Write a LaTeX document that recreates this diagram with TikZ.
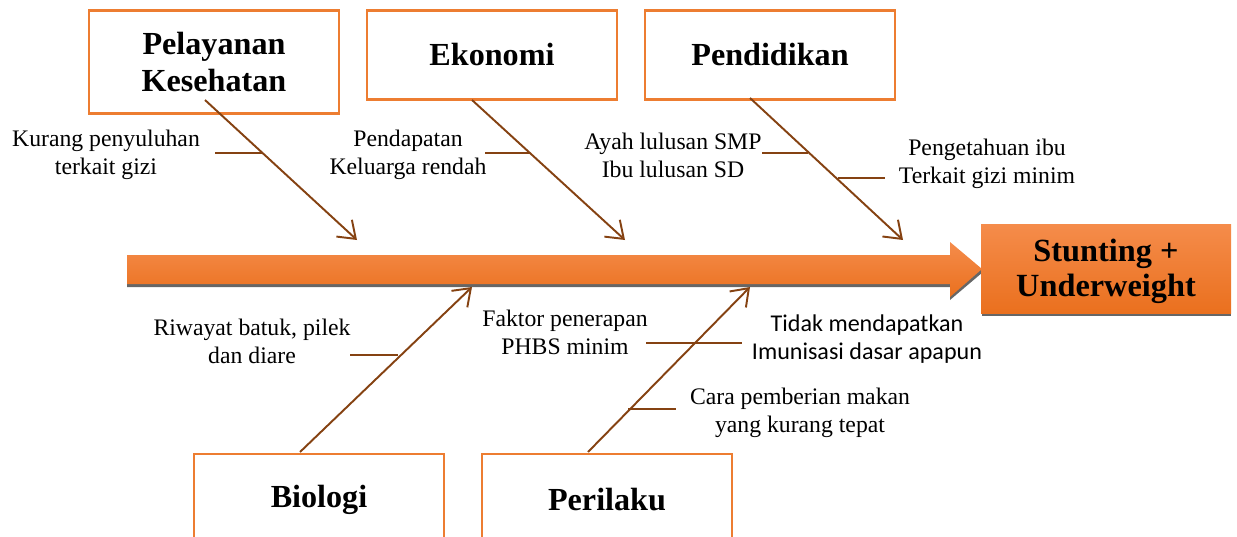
\documentclass[tikz,border=0pt]{standalone}
\usepackage{fontspec}
\setmainfont{Liberation Serif}
\newfontfamily\calibri{Carlito}
\usepackage{tikz}
\usetikzlibrary{arrows.meta,shadings}
\definecolor{boxorange}{RGB}{237,125,49}
\definecolor{bonebrown}{RGB}{133,66,18}
\definecolor{fishtop}{RGB}{245,140,75}
\definecolor{fishbottom}{RGB}{234,112,30}
\tikzstyle{cat}=[draw=boxorange,line width=1.5pt,minimum width=5cm,align=center,
  font=\fontsize{18.3}{21}\selectfont\bfseries]
\tikzstyle{cause}=[align=center,inner sep=0pt,font=\fontsize{13.5}{15.9}\selectfont]
\tikzstyle{bone}=[-{Straight Barb[length=9pt,width=13pt]},line width=1.1pt,color=bonebrown]
\tikzstyle{rib}=[line width=1.1pt,color=bonebrown]

\begin{document}
\begin{tikzpicture}[x=0.02cm,y=-0.02cm]
            \useasboundingbox (0,0) rectangle (1237,537);
            % spine
            \fill[gray!80!black] (127,258) -- (950,258) -- (950,245) -- (983,272)
                -- (950,300) -- (950,287) -- (127,287) -- cycle;
            \shade[top color=fishtop, bottom color=fishbottom]
                (127,255) -- (950,255) -- (950,242) -- (982,269) -- (950,297)
                -- (950,284) -- (127,284) -- cycle;
            % effect
            \fill[gray!80!black] (982,227) rectangle (1231,316);
            \shade[top color=fishtop, bottom color=fishbottom]
                (981,224) rectangle (1231,313);
            \node[cause,font=\fontsize{18.4}{20}\selectfont\bfseries] (stunting) at (1106,271)
                {Stunting +\\Underweight};
            % categories
            \node[cat,minimum height=103*0.02cm] (pelayanan) at (214,62) {Pelayanan\\Kesehatan};
            \node[cat,minimum height=89*0.02cm] (ekonomi) at (492,55) {Ekonomi};
            \node[cat,minimum height=89*0.02cm] (pendidikan) at (770,55) {Pendidikan};
            \node[cat,minimum height=92*0.02cm] (biologi) at (319,500) {Biologi};
            \node[cat,minimum height=92*0.02cm] (perilaku) at (607,500) {Perilaku};
            % bones
            \coordinate (pelB) at (357,240);
            \coordinate (pelA) at (205,100) edge[bone] (pelB);
            \coordinate (ekoB) at (625,240);
            \coordinate (ekoA) at (472,100) edge[bone] (ekoB);
            \coordinate (penB) at (903,240);
            \coordinate (penA) at (750,98) edge[bone] (penB);
            \coordinate (bioB) at (472,287);
            \coordinate (bioA) at (300,452) edge[bone] (bioB);
            \coordinate (perB) at (750,287);
            \coordinate (perA) at (588,452) edge[bone] (perB);
            % causes
            \node[cause] (kurang) at (106,155) {Kurang penyuluhan\\terkait gizi};
            \coordinate (kurangR) at (262,153);
            \coordinate (kurangL) at (215,153) edge[rib] (kurangR);
            \node[cause] (pendapatan) at (408,155) {Pendapatan\\Keluarga rendah};
            \coordinate (pendapatanR) at (530,153);
            \coordinate (pendapatanL) at (485,153) edge[rib] (pendapatanR);
            \node[cause] (ayah) at (673,155) {Ayah lulusan SMP\\Ibu lulusan SD};
            \coordinate (ayahR) at (808,153);
            \coordinate (ayahL) at (762,153) edge[rib] (ayahR);
            \node[cause] (pengetahuan) at (987,164) {Pengetahuan ibu\\Terkait gizi minim};
            \coordinate (pengetahuanR) at (885,178);
            \coordinate (pengetahuanL) at (838,178) edge[rib] (pengetahuanR);
            \node[cause] (riwayat) at (252,341) {Riwayat batuk, pilek\\dan diare};
            \coordinate (riwayatR) at (398,355);
            \coordinate (riwayatL) at (350,355) edge[rib] (riwayatR);
            \node[cause] (faktor) at (565,332) {Faktor penerapan\\PHBS minim};
            \coordinate (faktorR) at (742,343);
            \coordinate (faktorL) at (646,343) edge[rib] (faktorR);
            \node[cause,font=\fontsize{13.7}{16.2}\selectfont\calibri] (imunisasi) at (867,339)
                {Tidak mendapatkan\\Imunisasi dasar apapun};
            \node[cause] (cara) at (800,413) {Cara pemberian makan\\yang kurang tepat};
            \coordinate (caraR) at (676,409);
            \coordinate (caraL) at (628,409) edge[rib] (caraR);
        \end{tikzpicture}
\end{document}
